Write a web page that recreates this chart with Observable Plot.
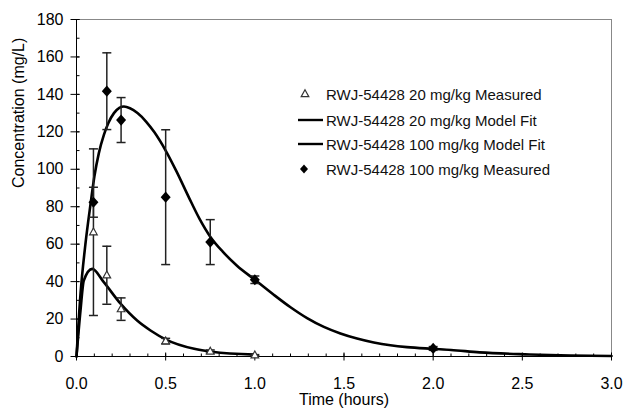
<!DOCTYPE html>
<html>
<head>
<meta charset="utf-8">
<script src="https://cdn.jsdelivr.net/npm/d3@7"></script>
<script src="https://cdn.jsdelivr.net/npm/@observablehq/plot@0.6"></script>
<style>
  body { margin: 0; background: #fff; }
  #wrap { position: relative; width: 625px; height: 412px; font-family: "Liberation Sans", Arial, sans-serif; }
  .row { position: absolute; left: 296px; height: 20px; display: flex; align-items: center; font-size: 15px; color: #111; white-space: nowrap; }
  .row svg { width: 28px; height: 20px; margin-right: 2px; }
</style>
</head>
<body>
<div id="wrap"></div>
<script>
// ---- data ----
const times20 = [0.095, 0.17, 0.25, 0.5, 0.75, 1.0];
const mean20  = [66.4, 43.4, 25.3, 8.2, 2.7, 0.7];
const sd20    = [44.5, 15.5, 6, 1.5, 0.8, 0.3];

const times100 = [0.095, 0.17, 0.25, 0.5, 0.75, 1.0, 2.0];
const mean100  = [82.4, 141.7, 126.3, 85.1, 61.1, 41, 4.3];
const sd100    = [8, 20.5, 12, 36, 12, 2, 1];

const fitT20 = [0, 0.0225, 0.041, 0.088, 0.153, 0.247, 0.34, 0.415, 0.505, 0.66, 0.76, 1.0];
const fitC20 = [0, 24.6, 40.6, 46.8, 39.7, 28.2, 19.2, 13.9, 8.9, 4.1, 2.5, 1.0];

const fitT100 = [0, 0.0225, 0.05, 0.079, 0.1, 0.125, 0.154, 0.18, 0.21, 0.24, 0.266, 0.3, 0.342, 0.39, 0.435, 0.5, 0.56, 0.63, 0.69, 0.75, 0.82, 0.9, 1.0, 1.106, 1.2, 1.293, 1.387, 1.48, 1.573, 1.667, 1.76, 1.853, 1.994, 2.1, 2.26, 2.54, 2.77, 3.0];
const fitC100 = [0, 33.5, 60, 81.6, 96, 108.5, 118.5, 125, 130, 132.8, 133.5, 132.6, 130, 125.5, 120, 110, 99, 85, 73.5, 64, 56, 48.5, 41, 33, 26.3, 20.5, 15.8, 12.3, 9.6, 7.5, 6, 5, 4.1, 3.5, 2.2, 1.1, 0.5, 0.3];

const xTicks = [0, 0.5, 1.0, 1.5, 2.0, 2.5, 3.0];
const yTicks = [0, 20, 40, 60, 80, 100, 120, 140, 160, 180];
const xMinorStep = 0.1;
const yMinorStep = 10;

const xTitle = "Time (hours)";
const yTitle = "Concentration (mg/L)";
const legendLabels = [
  "RWJ-54428 20 mg/kg Measured",
  "RWJ-54428 20 mg/kg Model Fit",
  "RWJ-54428 100 mg/kg Model Fit",
  "RWJ-54428 100 mg/kg Measured"
];

// ---- tables ----
const pts20 = times20.map((t, i) => ({t, c: mean20[i], lo: mean20[i] - sd20[i], hi: mean20[i] + sd20[i]}));
const pts100 = times100.map((t, i) => ({t, c: mean100[i], lo: mean100[i] - sd100[i], hi: mean100[i] + sd100[i]}));
const fit20 = fitT20.map((t, i) => ({t, c: fitC20[i]}));
const fit100 = fitT100.map((t, i) => ({t, c: fitC100[i]}));
const xMinor = d3.range(0, 3.0001, xMinorStep);
const yMinor = d3.range(0, 180.001, yMinorStep);

// ---- custom symbols ----
const hTick = (l, r) => ({draw(ctx) { ctx.moveTo(-l, 0); ctx.lineTo(r, 0); }});
const vTick = (up, down) => ({draw(ctx) { ctx.moveTo(0, -up); ctx.lineTo(0, down); }});
const tri = {draw(ctx) { ctx.moveTo(0, -4.2); ctx.lineTo(3.8, 2.6); ctx.lineTo(-3.8, 2.6); ctx.closePath(); }};
const diamond = {draw(ctx) { ctx.moveTo(0, -5.6); ctx.lineTo(5, 0); ctx.lineTo(0, 5.6); ctx.lineTo(-5, 0); ctx.closePath(); }};

const chart = Plot.plot({
  width: 625,
  height: 412,
  marginLeft: 76,
  marginRight: 14,
  marginTop: 19,
  marginBottom: 56,
  x: {domain: [0, 3]},
  y: {domain: [0, 180]},
  style: {fontFamily: "'Liberation Sans', Arial, sans-serif", fontSize: "16px", color: "#000", background: "#fff", overflow: "visible"},
  marks: [
    Plot.axisX(xTicks, {tickSize: 0, tickPadding: 21, tickFormat: d => d.toFixed(1), label: null, fontSize: 16}),
    Plot.axisY(yTicks, {tickSize: 0, tickPadding: 13, label: null, fontSize: 16}),
    Plot.text([xTitle], {frameAnchor: "bottom", dy: 48.5, fontSize: 16}),
    Plot.text([yTitle], {frameAnchor: "left", dx: -58, rotate: -90, fontSize: 16}),
    // plot area border (top & right) and axes
    Plot.ruleY([180], {stroke: "#888", strokeWidth: 1}),
    Plot.ruleX([3], {stroke: "#888", strokeWidth: 1}),
    Plot.ruleX([0], {stroke: "#000", strokeWidth: 1}),
    Plot.ruleY([0], {stroke: "#000", strokeWidth: 1}),
    // tick marks
    Plot.dot(yMinor, {x: 0, y: d => d, symbol: hTick(0, 3), fill: "none", stroke: "#000", strokeWidth: 1}),
    Plot.dot(yTicks, {x: 0, y: d => d, symbol: hTick(6, 3), fill: "none", stroke: "#000", strokeWidth: 1}),
    Plot.dot(xMinor, {x: d => d, y: 0, symbol: vTick(3, 0), fill: "none", stroke: "#000", strokeWidth: 1}),
    Plot.dot(xTicks, {x: d => d, y: 0, symbol: vTick(4, 4), fill: "none", stroke: "#000", strokeWidth: 1}),
    // model fits
    Plot.line(fit100, {x: "t", y: "c", curve: "monotone-x", stroke: "#000", strokeWidth: 2.6}),
    Plot.line(fit20, {x: "t", y: "c", curve: "monotone-x", stroke: "#000", strokeWidth: 2.6}),
    // error bars
    Plot.ruleX(pts100, {x: "t", y1: "lo", y2: "hi", stroke: "#222", strokeWidth: 1.5}),
    Plot.dot(pts100, {x: "t", y: "lo", symbol: hTick(4.5, 4.5), fill: "none", stroke: "#222", strokeWidth: 1.5}),
    Plot.dot(pts100, {x: "t", y: "hi", symbol: hTick(4.5, 4.5), fill: "none", stroke: "#222", strokeWidth: 1.5}),
    Plot.ruleX(pts20, {x: "t", y1: "lo", y2: "hi", stroke: "#222", strokeWidth: 1.5}),
    Plot.dot(pts20, {x: "t", y: "lo", symbol: hTick(4.5, 4.5), fill: "none", stroke: "#222", strokeWidth: 1.5}),
    Plot.dot(pts20, {x: "t", y: "hi", symbol: hTick(4.5, 4.5), fill: "none", stroke: "#222", strokeWidth: 1.5}),
    // measured points
    Plot.dot(pts20, {x: "t", y: "c", symbol: tri, fill: "#fff", stroke: "#333", strokeWidth: 1.2}),
    Plot.dot(pts100, {x: "t", y: "c", symbol: diamond, fill: "#000", stroke: "none"})
  ]
});

const wrap = document.getElementById("wrap");
wrap.appendChild(chart);

// ---- legend (inside plot area, at right) ----
const rowY = [94, 120, 144, 169];
const swatches = [
  '<polygon points="9,5.8 12.8,12.6 5.2,12.6" fill="#fff" stroke="#333" stroke-width="1.2"/>',
  '<line x1="2" y1="10" x2="27" y2="10" stroke="#000" stroke-width="2.4"/>',
  '<line x1="2" y1="10" x2="27" y2="10" stroke="#000" stroke-width="2.4"/>',
  '<polygon points="8,5.5 12,10 8,14.5 4,10" fill="#000"/>'
];
legendLabels.forEach((lab, i) => {
  const row = document.createElement("div");
  row.className = "row";
  row.style.top = (rowY[i] - 10) + "px";
  row.innerHTML = `<svg viewBox="0 0 28 20">${swatches[i]}</svg><span></span>`;
  row.querySelector("span").textContent = lab;
  wrap.appendChild(row);
});
</script>
</body>
</html>
